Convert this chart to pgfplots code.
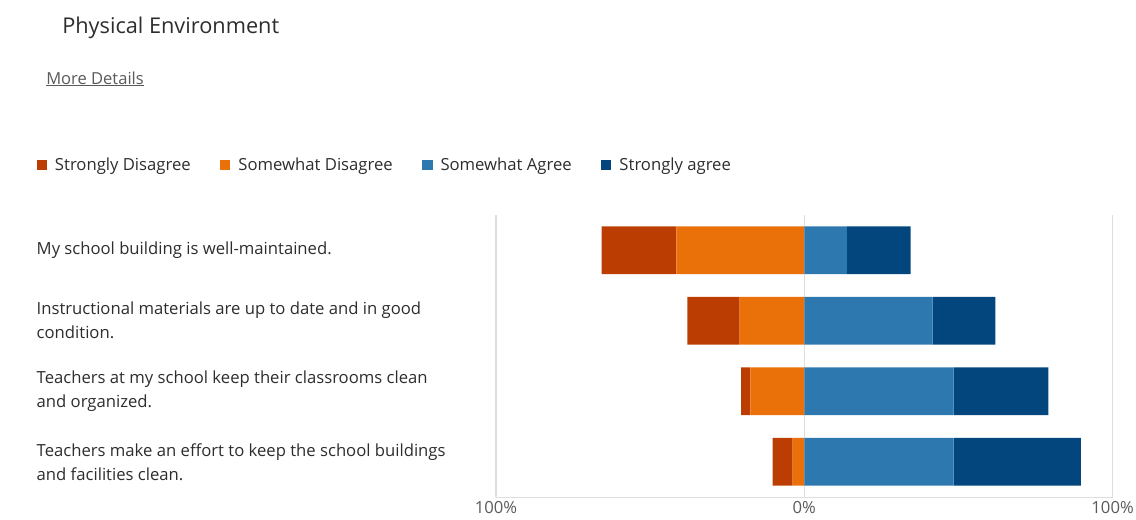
\documentclass[border=0pt]{standalone}
\usepackage{pgfplots}
\pgfplotsset{compat=1.18}
\usepackage{fontspec}
\setmainfont{Open Sans}
\definecolor{sdc}{RGB}{188,61,2}
\definecolor{swdc}{RGB}{234,113,10}
\definecolor{swac}{RGB}{46,120,176}
\definecolor{sac}{RGB}{3,70,126}
\definecolor{gridc}{RGB}{222,222,222}
\definecolor{txt}{RGB}{45,45,45}
\definecolor{tick}{RGB}{90,90,90}
\begin{document}
\begin{tikzpicture}[x=0.75pt,y=0.75pt]
\path[use as bounding box] (0,0) rectangle (1136,519);
\node[anchor=west,font=\fontsize{16.3}{19}\selectfont,text=txt,inner sep=0] at (62,491) {Physical Environment};
\node[anchor=west,font=\fontsize{12.4}{14}\selectfont,text=tick,inner sep=0] (md) at (46,441) {More Details};
\draw[tick,line width=0.6pt] (md.south west)++(0,-1) -- ++(98,0);
\pgfplotsset{
  baseaxis/.style={
    at={(372pt,16.5pt)}, anchor=south west,
    width=462.45pt, height=211.5pt, scale only axis,
    xmin=-100, xmax=100, ymin=-0.5, ymax=3.5, y dir=reverse,
    xbar stacked, bar width=0.675,
  }
}
\begin{axis}[baseaxis,
  axis x line*=bottom, axis y line*=left,
  x axis line style={gridc,-}, y axis line style={draw=none},
  xtick={-100,0,100}, xticklabels={100\%,0\%,100\%},
  major tick length=0pt,
  xmajorgrids, major grid style={gridc, line width=0.8pt},
  xticklabel style={font=\fontsize{12.5}{14}\selectfont, text=tick},
  ytick={0,1,2,3},
  yticklabels={{My school building is well-maintained.},
    {Instructional materials are up to date and in good\\condition.},
    {Teachers at my school keep their classrooms clean\\and organized.},
    {Teachers make an effort to keep the school buildings\\and facilities clean.}},
  yticklabel style={font=\fontsize{12.5}{18}\selectfont, text=txt, align=left, anchor=west, xshift=-348pt},
]
\addplot[fill=swdc, draw=none] coordinates {(-41.5,0) (-21,1) (-17.5,2) (-3.8,3)};
\addplot[fill=sdc, draw=none] coordinates {(-24.2,0) (-16.9,1) (-3,2) (-6.5,3)};
\end{axis}
\begin{axis}[baseaxis, hide axis,
  legend style={at={(-0.752,1.177)}, anchor=west, draw=none, fill=none,
    font=\fontsize{12.5}{14}\selectfont, text=txt, legend columns=4,
    /tikz/every odd column/.append style={column sep=4pt},
    /tikz/every even column/.append style={column sep=20pt}},
  legend image code/.code={\fill[#1] (0pt,-3.9pt) rectangle (7.8pt,3.9pt);},
  legend cell align=left,
]
\addlegendimage{fill=sdc, draw=none}
\addlegendentry{Strongly Disagree}
\addlegendimage{fill=swdc, draw=none}
\addlegendentry{Somewhat Disagree}
\addlegendimage{fill=swac, draw=none}
\addlegendentry{Somewhat Agree}
\addlegendimage{fill=sac, draw=none}
\addlegendentry{Strongly agree}
\addplot[fill=swac, draw=none, forget plot] coordinates {(13.8,0) (41.6,1) (48.4,2) (48.4,3)};
\addplot[fill=sac, draw=none, forget plot] coordinates {(20.7,0) (20.4,1) (30.8,2) (41.3,3)};
\end{axis}
\end{tikzpicture}
\end{document}
